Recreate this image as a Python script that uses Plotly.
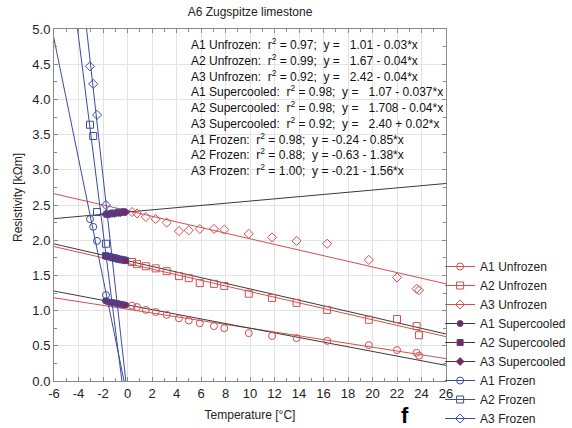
import plotly.graph_objects as go

# ---------------- data ----------------
T_unf = [0.37, 0.78, 1.5, 2.3, 3.2, 4.2, 5.0, 5.9, 7.06, 7.9, 9.9, 11.8, 13.8, 16.3, 19.7, 22.0, 23.6, 23.8]
A1_unf = [1.07, 1.05, 1.01, 0.98, 0.94, 0.89, 0.86, 0.82, 0.78, 0.75, 0.68, 0.64, 0.61, 0.57, 0.51, 0.44, 0.40, 0.36]
A2_unf = [1.69, 1.66, 1.63, 1.60, 1.56, 1.49, 1.46, 1.39, 1.38, 1.35, 1.24, 1.18, 1.11, 1.01, 0.87, 0.88, 0.78, 0.65]
A3_unf = [2.40, 2.38, 2.33, 2.30, 2.25, 2.13, 2.14, 2.16, 2.16, 2.15, 2.09, 2.04, 1.99, 1.95, 1.72, 1.47, 1.31, 1.29]

T_sup = [-1.8, -1.65, -1.5, -1.35, -1.2, -1.05, -0.9, -0.75, -0.6, -0.45, -0.3, -0.15]
A1_sup = [1.14, 1.13, 1.12, 1.12, 1.11, 1.11, 1.10, 1.10, 1.09, 1.09, 1.08, 1.08]
A2_sup = [1.78, 1.77, 1.77, 1.76, 1.75, 1.75, 1.74, 1.73, 1.73, 1.72, 1.72, 1.71]
A3_sup = [2.37, 2.37, 2.37, 2.38, 2.38, 2.38, 2.39, 2.39, 2.39, 2.40, 2.40, 2.40]

T_fr = [-3.06, -2.8, -2.49, -1.76]
A1_fr = [2.30, 2.19, 1.99, 1.22]
A2_fr = [3.64, 3.48, 2.40, 1.95]
A3_fr = [4.47, 4.22, 3.78, 2.50]

# regression lines (intercept, slope) as drawn
fit_names = ["A1 Unfrozen", "A2 Unfrozen", "A3 Unfrozen",
             "A1 Supercooled", "A2 Supercooled", "A3 Supercooled",
             "A1 Frozen", "A2 Frozen", "A3 Frozen"]
fit_intercepts = [1.02, 1.67, 2.42, 1.08, 1.708, 2.40, -0.24, -0.63, -0.21]
fit_slopes = [-0.027, -0.04, -0.04, -0.033, -0.04, 0.0156, -0.85, -1.38, -1.56]

SP = "&nbsp; "
eq_labels = [
    f"A1 Unfrozen:{SP}r<sup>2</sup> = 0.97;{SP}y = {SP}1.01 - 0.03*x",
    f"A2 Unfrozen:{SP}r<sup>2</sup> = 0.99;{SP}y = {SP}1.67 - 0.04*x",
    f"A3 Unfrozen:{SP}r<sup>2</sup> = 0.92;{SP}y = {SP}2.42 - 0.04*x",
    f"A1 Supercooled:{SP}r<sup>2</sup> = 0.98;{SP}y = {SP}1.07 - 0.037*x",
    f"A2 Supercooled:{SP}r<sup>2</sup> = 0.98;{SP}y = {SP}1.708 - 0.04*x",
    f"A3 Supercooled:{SP}r<sup>2</sup> = 0.92;{SP}y = {SP}2.40 + 0.02*x",
    f"A1 Frozen:{SP}r<sup>2</sup> = 0.98;{SP}y = -0.24 - 0.85*x",
    f"A2 Frozen:{SP}r<sup>2</sup> = 0.88;{SP}y = -0.63 - 1.38*x",
    f"A3 Frozen:{SP}r<sup>2</sup> = 1.00;{SP}y = -0.21 - 1.56*x",
]

x_ticks = list(range(-6, 27, 2))
y_ticks = [0.0, 0.5, 1.0, 1.5, 2.0, 2.5, 3.0, 3.5, 4.0, 4.5, 5.0]

# ---------------- styles ----------------
RED = "#d4504f"
BLUE = "#3c4c9c"
DARK = "#3a3a3a"
SUPC = "#8a2050"
FONT = "Liberation Sans, Arial, sans-serif"

series = [
    (T_unf, A1_unf, "circle-open", RED, None, 7),
    (T_unf, A2_unf, "square-open", RED, None, 7),
    (T_unf, A3_unf, "diamond-open", RED, None, 7),
    (T_sup, A1_sup, "circle", SUPC, BLUE, 6),
    (T_sup, A2_sup, "square", SUPC, BLUE, 6),
    (T_sup, A3_sup, "diamond", SUPC, BLUE, 6),
    (T_fr, A1_fr, "circle-open", BLUE, None, 7),
    (T_fr, A2_fr, "square-open", BLUE, None, 7),
    (T_fr, A3_fr, "diamond-open", BLUE, None, 7),
]
line_colors = [RED, RED, RED, DARK, DARK, DARK, BLUE, BLUE, BLUE]

fig = go.Figure()

x_line = [-40, 60]
for i, name in enumerate(fit_names):
    xs, ys, sym, col, edge, sz = series[i]
    yl = [fit_intercepts[i] + fit_slopes[i] * xv for xv in x_line]
    mk = dict(symbol=sym, color=col, size=sz,
              line=dict(color=edge if edge else col, width=1))
    # regression line (carries the legend entry)
    fig.add_trace(go.Scatter(x=x_line, y=yl, mode="lines+markers", name=name,
                             line=dict(color=line_colors[i], width=1),
                             marker=mk, cliponaxis=True))

for i, name in enumerate(fit_names):
    xs, ys, sym, col, edge, sz = series[i]
    mk = dict(symbol=sym, color=col, size=sz,
              line=dict(color=edge if edge else col, width=1))
    fig.add_trace(go.Scatter(x=xs, y=ys, mode="markers", name=name,
                             marker=mk, showlegend=False, cliponaxis=True))

PLOT_T, PLOT_B, PLOT_L, PLOT_R = 29, 381, 54, 446
PH, PW = PLOT_B - PLOT_T, PLOT_R - PLOT_L

for k, txt in enumerate(eq_labels):
    fig.add_annotation(text=txt, xref="paper", yref="paper",
                       x=(189 - PLOT_L) / PW, y=1 - (44 + k * 15.75 - PLOT_T) / PH,
                       xanchor="left", yanchor="middle", showarrow=False,
                       font=dict(family=FONT, size=12, color="#111"))

fig.add_annotation(text="<b>f</b>", xref="paper", yref="paper",
                   x=(405 - PLOT_L) / PW, y=-(415 - PLOT_B) / PH, xanchor="center",
                   yanchor="middle", showarrow=False,
                   font=dict(family=FONT, size=22, color="#000"))

fig.add_annotation(text="Resistivity [kΩm]", xref="paper", yref="paper",
                   x=(18 - PLOT_L) / PW, y=1 - (198 - PLOT_T) / PH, textangle=-90,
                   xanchor="center", yanchor="middle", showarrow=False,
                   font=dict(family=FONT, size=12, color="#222"))

axis_common = dict(showline=True, linecolor="#8a8a8a", linewidth=1, mirror="ticks",
                   ticks="inside", ticklen=4, tickcolor="#8a8a8a",
                   showgrid=True, gridcolor="#e3e3e3", gridwidth=1, zeroline=False,
                   tickfont=dict(family=FONT, size=13, color="#222"))

fig.update_layout(
    width=572, height=428,
    margin=dict(l=PLOT_L, r=572 - PLOT_R, t=PLOT_T, b=428 - PLOT_B, autoexpand=False),
    paper_bgcolor="white", plot_bgcolor="white",
    font=dict(family=FONT, size=12, color="#222"),
    title=dict(text="A6 Zugspitze limestone", x=250 / 572, xanchor="center",
               y=1 - 12 / 428, yanchor="middle",
               font=dict(family=FONT, size=12, color="#222")),
    xaxis=dict(range=[-6, 26], tickvals=x_ticks, ticktext=[str(v) for v in x_ticks],
               minor=dict(dtick=1, ticks="inside", ticklen=3, tickcolor="#8a8a8a", showgrid=False),
               title=dict(text="Temperature [°C]", standoff=11,
                          font=dict(family=FONT, size=12, color="#222")),
               **axis_common),
    yaxis=dict(range=[0, 5], tickvals=y_ticks, ticktext=[f"{v:.1f}" for v in y_ticks],
               minor=dict(dtick=0.25, ticks="inside", ticklen=3, tickcolor="#8a8a8a", showgrid=False),
               **axis_common),
    legend=dict(x=0.985, xanchor="left", y=(PLOT_B - 252) / PH, yanchor="top",
                bgcolor="rgba(0,0,0,0)", borderwidth=0, itemwidth=30,
                font=dict(family=FONT, size=12, color="#222"),
                tracegroupgap=0),
    showlegend=True,
)

fig.write_html("out.html")
